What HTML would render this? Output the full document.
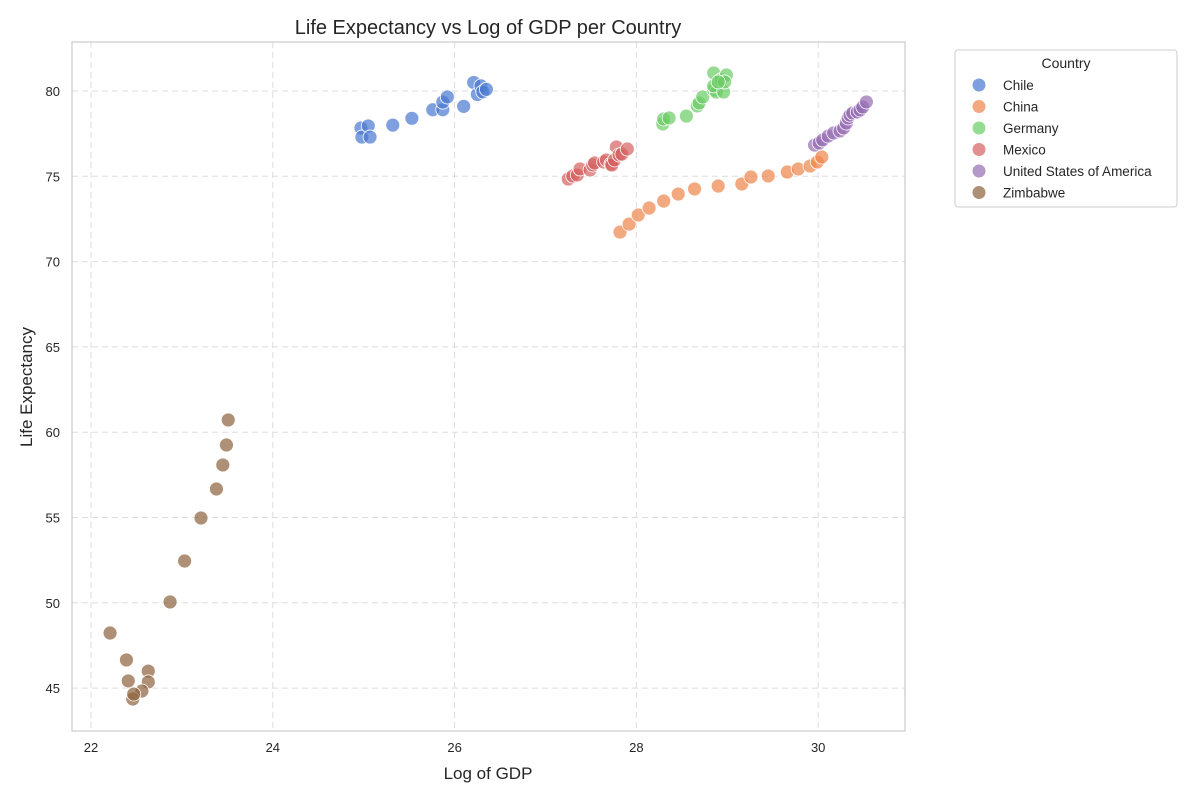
<!DOCTYPE html>
<html><head><meta charset="utf-8"><style>
body{margin:0;background:#fff;font-family:"Liberation Sans",Arial,sans-serif;}
svg text{font-family:"Liberation Sans",Arial,sans-serif;fill:#262626;}
</style></head><body>
<svg id="chart" width="1200" height="800">
<rect x="0" y="0" width="1200" height="800" fill="#fff"/>
<g id="grid"></g>
<rect x="72" y="42" width="833" height="689" fill="none" stroke="#ccc" stroke-width="1.25"/>
<g id="ticks"></g>
<g id="points"></g>
<text x="488" y="34" text-anchor="middle" font-size="20">Life Expectancy vs Log of GDP per Country</text>
<text x="488" y="779" text-anchor="middle" font-size="17">Log of GDP</text>
<text x="32" y="387" text-anchor="middle" font-size="17" transform="rotate(-90 32 387)">Life Expectancy</text>
<g id="legend">
<rect x="955" y="50" width="222" height="157" rx="3" fill="#fff" stroke="#ccc"/>
<text x="1066" y="68" text-anchor="middle" font-size="14">Country</text>
</g>
</svg>
<script>
const countries=["Chile","China","Germany","Mexico","United States of America","Zimbabwe"];
const colors=["#4878d0","#ee854a","#6acc64","#d65f5f","#956cb4","#8c613c"];
const chileX=[24.97,24.98,25.05,25.07,25.32,25.53,25.76,25.87,25.87,25.92,26.10,26.21,26.25,26.29,26.31,26.35];
const chileY=[77.83,77.3,77.95,77.3,78.0,78.4,78.9,78.9,79.35,79.65,79.1,80.5,79.8,80.3,79.95,80.1];
const chinaX=[27.82,27.92,28.02,28.14,28.30,28.46,28.64,28.90,29.16,29.26,29.45,29.66,29.78,29.91,29.99,30.04];
const chinaY=[71.73,72.2,72.73,73.14,73.55,73.96,74.26,74.43,74.55,74.96,75.02,75.25,75.43,75.6,75.84,76.13];
const germanyX=[28.29,28.30,28.36,28.55,28.67,28.69,28.73,28.85,28.88,28.85,28.85,28.93,28.96,28.99,28.97,28.90];
const germanyY=[78.07,78.36,78.42,78.53,79.12,79.3,79.65,80.06,79.94,80.3,81.06,80.65,79.94,80.94,80.53,80.53];
const mexicoX=[27.25,27.30,27.35,27.38,27.49,27.52,27.54,27.64,27.67,27.72,27.73,27.76,27.78,27.81,27.84,27.90];
const mexicoY=[74.84,75.02,75.08,75.43,75.37,75.66,75.78,75.84,75.96,75.72,75.66,75.96,76.72,76.25,76.3,76.6];
const usaX=[29.96,30.01,30.05,30.11,30.17,30.24,30.28,30.31,30.33,30.35,30.38,30.43,30.46,30.49,30.53];
const usaY=[76.83,76.95,77.13,77.36,77.54,77.66,77.83,78.12,78.42,78.59,78.71,78.77,78.89,79.06,79.36];
const zimX=[22.21,22.39,22.41,22.63,22.63,22.56,22.46,22.47,22.87,23.03,23.21,23.38,23.45,23.49,23.51];
const zimY=[48.23,46.65,45.42,46.0,45.36,44.83,44.36,44.65,50.05,52.45,54.97,56.67,58.08,59.25,60.72];
const xTicks=[22,24,26,28,30];
const yTicks=[45,50,55,60,65,70,75,80];

const NS="http://www.w3.org/2000/svg";
function sx(v){return 91+(v-22)*90.9;}
function sy(v){return 91+(80-v)*17.06;}
function mk(tag,attrs,parent){const e=document.createElementNS(NS,tag);for(const k in attrs)e.setAttribute(k,attrs[k]);parent.appendChild(e);return e;}
const grid=document.getElementById('grid'),ticks=document.getElementById('ticks'),pts=document.getElementById('points'),leg=document.getElementById('legend');
xTicks.forEach(t=>{
  const l=mk('line',{x1:sx(t),x2:sx(t),y1:42,y2:731,stroke:'#ddd','stroke-dasharray':'6,4'},grid);
  
  
  const tx=mk('text',{x:sx(t),y:752,'text-anchor':'middle','font-size':13},ticks);
  tx.textContent=t;
  
  
});
yTicks.forEach(t=>{
  const l=mk('line',{x1:72,x2:905,y1:sy(t),y2:sy(t),stroke:'#ddd','stroke-dasharray':'6,4'},grid);
  
  
  const tx=mk('text',{x:60,y:sy(t)+5,'text-anchor':'end','font-size':13},ticks);
  tx.textContent=t;
  
  
});
const series=[[chileX,chileY],[chinaX,chinaY],[germanyX,germanyY],[mexicoX,mexicoY],[usaX,usaY],[zimX,zimY]];
series.forEach((s,i)=>{
  s[0].forEach((x,j)=>{
    const c=mk('circle',{cx:sx(x),cy:sy(s[1][j]),r:7,fill:colors[i],'fill-opacity':0.7,stroke:'#fff','stroke-width':0.8},pts);
    
    
  });
  const y=85+i*21.5;
  const c=mk('circle',{cx:979,cy:y,r:6.5,fill:colors[i],'fill-opacity':0.7},leg);
  
  
  const t=mk('text',{x:1003,y:y+5,'font-size':13.5},leg);
  t.textContent=countries[i];
  
  
});
</script>
</body></html>
